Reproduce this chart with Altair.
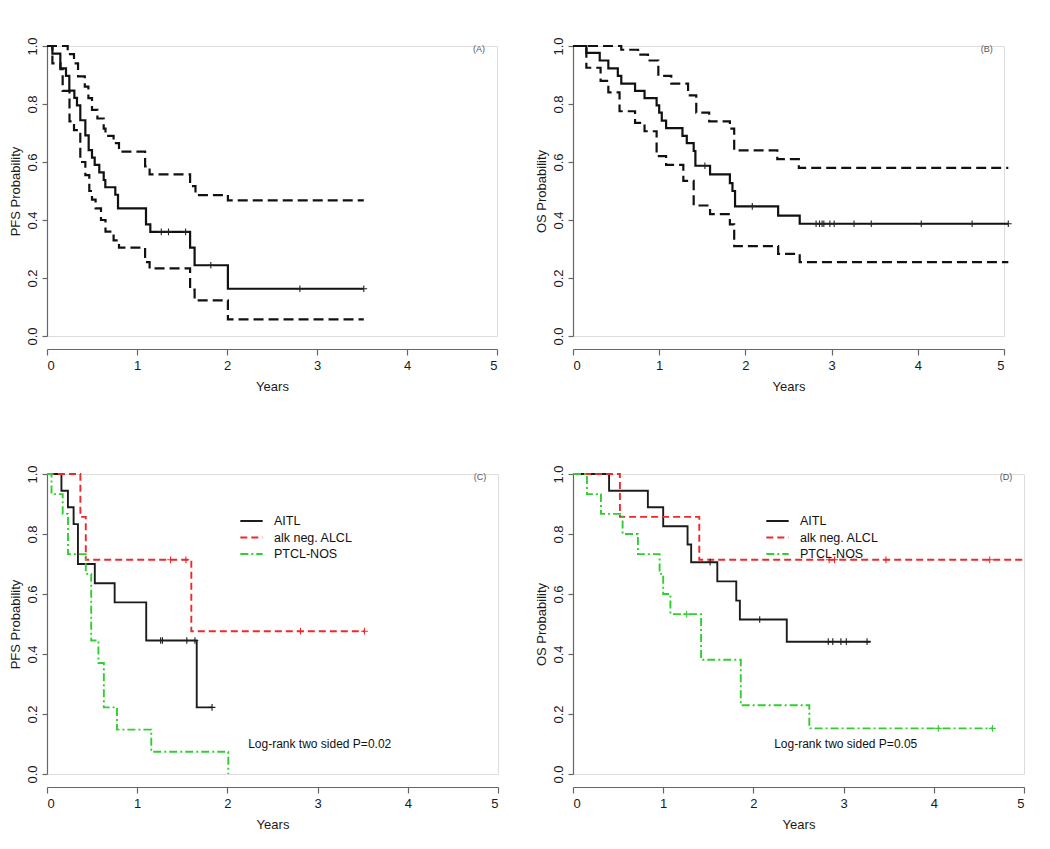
import altair as alt
import pandas as pd

# ---------------- Panel A: PFS, all patients (estimate + 95% CI) ----------------
A_est_t = [0, 0.06, 0.148, 0.211, 0.248, 0.304, 0.333, 0.37, 0.426, 0.463, 0.5, 0.53, 0.581, 0.63, 0.648, 0.759, 0.789, 1.1, 1.148, 1.59, 1.64, 2.01, 3.52]
A_est_s = [1, 0.974, 0.923, 0.897, 0.846, 0.821, 0.795, 0.744, 0.692, 0.641, 0.615, 0.590, 0.564, 0.538, 0.513, 0.487, 0.44, 0.385, 0.359, 0.305, 0.244, 0.163, 0.163]
A_up_t = [0, 0.23, 0.30, 0.345, 0.42, 0.46, 0.5, 0.56, 0.63, 0.65, 0.74, 0.80, 1.09, 1.14, 1.59, 1.65, 2.01, 3.52]
A_up_s = [1, 0.972, 0.94, 0.895, 0.86, 0.82, 0.78, 0.75, 0.715, 0.69, 0.665, 0.636, 0.585, 0.557, 0.517, 0.486, 0.468, 0.468]
A_lo_t = [0, 0.06, 0.15, 0.174, 0.25, 0.30, 0.37, 0.426, 0.47, 0.5, 0.54, 0.6, 0.65, 0.74, 0.80, 1.09, 1.14, 1.59, 1.64, 2.01, 3.52]
A_lo_s = [1, 0.94, 0.92, 0.845, 0.74, 0.71, 0.60, 0.555, 0.50, 0.47, 0.44, 0.40, 0.36, 0.33, 0.305, 0.255, 0.233, 0.16, 0.123, 0.057, 0.057]
A_cen_t = [1.27, 1.35, 1.54, 1.82, 2.81, 3.52]
A_cen_s = [0.359, 0.359, 0.359, 0.244, 0.163, 0.163]

# ---------------- Panel B: OS, all patients (estimate + 95% CI) ----------------
B_est_t = [0, 0.155, 0.31, 0.41, 0.52, 0.56, 0.72, 0.83, 0.97, 1.0, 1.03, 1.08, 1.27, 1.32, 1.40, 1.42, 1.59, 1.82, 1.85, 1.88, 2.38, 2.63, 5.05]
B_est_s = [1, 0.976, 0.95, 0.923, 0.897, 0.87, 0.845, 0.82, 0.795, 0.77, 0.743, 0.717, 0.69, 0.665, 0.638, 0.587, 0.557, 0.527, 0.50, 0.447, 0.415, 0.387, 0.387]
B_up_t = [0, 0.56, 0.755, 0.87, 0.99, 1.14, 1.335, 1.43, 1.58, 1.82, 1.87, 2.37, 2.62, 5.05]
B_up_s = [1, 0.987, 0.97, 0.95, 0.897, 0.87, 0.83, 0.77, 0.74, 0.715, 0.64, 0.61, 0.58, 0.58]
B_lo_t = [0, 0.155, 0.32, 0.41, 0.54, 0.72, 0.83, 0.97, 1.08, 1.28, 1.40, 1.59, 1.82, 1.87, 2.38, 2.63, 5.05]
B_lo_s = [1, 0.925, 0.88, 0.84, 0.775, 0.735, 0.706, 0.62, 0.59, 0.535, 0.45, 0.42, 0.385, 0.31, 0.283, 0.255, 0.255]
B_cen_t = [1.53, 2.08, 2.82, 2.86, 2.89, 2.91, 2.98, 3.03, 3.26, 3.46, 4.04, 4.63, 5.05]
B_cen_s = [0.587, 0.447, 0.387, 0.387, 0.387, 0.387, 0.387, 0.387, 0.387, 0.387, 0.387, 0.387, 0.387]

# ---------------- Panel C: PFS by subtype ----------------
GROUPS = ["AITL", "alk neg. ALCL", "PTCL-NOS"]
C_aitl_t = [0, 0.16, 0.232, 0.295, 0.343, 0.53, 0.75, 1.10, 1.66, 1.83]
C_aitl_s = [1, 0.944, 0.889, 0.833, 0.70, 0.636, 0.572, 0.445, 0.222, 0.222]
C_alcl_t = [0, 0.37, 0.43, 1.60, 3.52]
C_alcl_s = [1, 0.857, 0.714, 0.476, 0.476]
C_ptcl_t = [0, 0.05, 0.174, 0.233, 0.43, 0.49, 0.57, 0.63, 0.776, 1.156, 2.01]
C_ptcl_s = [1, 0.933, 0.867, 0.733, 0.667, 0.445, 0.37, 0.222, 0.148, 0.074, 0.0]
C_aitl_cen_t = [1.26, 1.28, 1.55, 1.64, 1.83]
C_aitl_cen_s = [0.445, 0.445, 0.445, 0.445, 0.222]
C_alcl_cen_t = [1.37, 1.54, 2.81, 3.52]
C_alcl_cen_s = [0.714, 0.714, 0.476, 0.476]

# ---------------- Panel D: OS by subtype ----------------
D_aitl_t = [0, 0.40, 0.83, 1.0, 1.27, 1.31, 1.60, 1.81, 1.85, 2.37, 3.30]
D_aitl_s = [1, 0.944, 0.889, 0.826, 0.765, 0.706, 0.642, 0.578, 0.515, 0.441, 0.441]
D_alcl_t = [0, 0.52, 1.40, 4.99]
D_alcl_s = [1, 0.857, 0.714, 0.714]
D_ptcl_t = [0, 0.155, 0.31, 0.55, 0.72, 0.96, 1.0, 1.08, 1.42, 1.86, 2.62, 4.65]
D_ptcl_s = [1, 0.933, 0.867, 0.8, 0.733, 0.667, 0.6, 0.533, 0.381, 0.229, 0.152, 0.152]
D_aitl_cen_t = [1.52, 2.07, 2.83, 2.88, 2.97, 3.03, 3.26]
D_aitl_cen_s = [0.706, 0.515, 0.441, 0.441, 0.441, 0.441, 0.441]
D_alcl_cen_t = [2.84, 2.90, 3.47, 4.62]
D_alcl_cen_s = [0.714, 0.714, 0.714, 0.714]
D_ptcl_cen_t = [1.26, 4.05, 4.65]
D_ptcl_cen_s = [0.533, 0.152, 0.152]

PANEL_TAGS = ["(A)", "(B)", "(C)", "(D)"]
PVALUES = ["Log-rank two sided P=0.02", "Log-rank two sided P=0.05"]
X_TICKS = [0, 1, 2, 3, 4, 5]
Y_TICKS = [0.0, 0.2, 0.4, 0.6, 0.8, 1.0]

# ---------------- styles ----------------
GROUP_COLORS = {"AITL": "#1c1c1c", "alk neg. ALCL": "#f0282a", "PTCL-NOS": "#2fcf2f"}
GROUP_DASH = {"AITL": [1, 0], "alk neg. ALCL": [7, 4], "PTCL-NOS": [8, 3, 2, 3]}
CROSS = "M-1,0L1,0M0,-1L0,1"


def x_enc():
    return alt.X("t:Q", title="Years",
                 scale=alt.Scale(domain=[0, 5], nice=False, zero=False),
                 axis=alt.Axis(values=X_TICKS, format="d", offset=13, tickSize=6,
                               labelPadding=4, titlePadding=8, grid=False))


def y_enc(title):
    return alt.Y("s:Q", title=title,
                 scale=alt.Scale(domain=[0, 1], nice=False),
                 axis=alt.Axis(values=Y_TICKS, format=".1f", labelAngle=270,
                               labelAlign="center", labelBaseline="bottom",
                               tickSize=5, labelPadding=3, titlePadding=4, grid=False))


def curve(t, s, name):
    return pd.DataFrame({"t": t, "s": s, "curve": name})


def ci_panel(est, up, lo, cen, ytitle, tag, w, h):
    est_df = curve(est[0], est[1], "est")
    ci_df = pd.concat([curve(up[0], up[1], "upper"), curve(lo[0], lo[1], "lower")])
    cen_df = pd.DataFrame({"t": cen[0], "s": cen[1]})
    tag_df = pd.DataFrame({"t": [4.8], "s": [0.99], "label": [tag]})
    l_ci = alt.Chart(ci_df).mark_line(interpolate="step-after", color="#111111",
                                       strokeWidth=2.2, strokeDash=[10, 5]).encode(
        x=x_enc(), y=y_enc(ytitle), detail="curve:N")
    l_est = alt.Chart(est_df).mark_line(interpolate="step-after", color="#111111",
                                         strokeWidth=2.2).encode(x=x_enc(), y=y_enc(ytitle))
    l_cen = alt.Chart(cen_df).mark_point(shape=CROSS, filled=False, size=45, color="#222222",
                                          strokeWidth=1.1, opacity=1).encode(x=x_enc(), y=y_enc(ytitle))
    l_tag = alt.Chart(tag_df).mark_text(fontSize=9, color="#555555", align="center",
                                         baseline="middle").encode(x=x_enc(), y=y_enc(ytitle), text="label:N")
    return alt.layer(l_ci, l_est, l_cen, l_tag).properties(width=w, height=h)


def group_panel(curves, cens, ytitle, tag, ptext, w, h):
    rows = []
    for g, (t, s) in zip(GROUPS, curves):
        rows.append(pd.DataFrame({"t": t, "s": s, "group": g}))
    line_df = pd.concat(rows)
    crows = []
    for g, (t, s) in cens.items():
        crows.append(pd.DataFrame({"t": t, "s": s, "group": g, "col": GROUP_COLORS[g]}))
    cen_df = pd.concat(crows)
    txt_df = pd.DataFrame({"t": [4.8, 2.23], "s": [0.99, 0.1], "label": [tag, ptext],
                           "kind": ["tag", "p"]})
    legend = alt.Legend(orient="none", legendX=192, legendY=39, title=None,
                        symbolType="stroke", symbolSize=500, symbolStrokeWidth=2,
                        labelFontSize=12.5, labelColor="#111111", labelOffset=10,
                        clipHeight=16, rowPadding=0.5, padding=0)
    lines = alt.Chart(line_df).mark_line(interpolate="step-after", strokeWidth=1.9).encode(
        x=x_enc(), y=y_enc(ytitle),
        color=alt.Color("group:N", scale=alt.Scale(domain=GROUPS,
                                                   range=[GROUP_COLORS[g] for g in GROUPS]),
                        legend=legend),
        strokeDash=alt.StrokeDash("group:N", scale=alt.Scale(domain=GROUPS,
                                                            range=[GROUP_DASH[g] for g in GROUPS]),
                                  legend=legend))
    pts = alt.Chart(cen_df).mark_point(shape=CROSS, filled=False, size=45, strokeWidth=1.1,
                                       opacity=1).encode(
        x=x_enc(), y=y_enc(ytitle), color=alt.Color("col:N", scale=None))
    tag_l = alt.Chart(txt_df).transform_filter(alt.datum.kind == "tag").mark_text(
        fontSize=9, color="#555555", align="center", baseline="middle").encode(
        x=x_enc(), y=y_enc(ytitle), text="label:N")
    p_l = alt.Chart(txt_df).transform_filter(alt.datum.kind == "p").mark_text(
        fontSize=12, color="#111111", align="left", baseline="middle").encode(
        x=x_enc(), y=y_enc(ytitle), text="label:N")
    return alt.layer(lines, pts, tag_l, p_l).properties(width=w, height=h)


pA = ci_panel((A_est_t, A_est_s), (A_up_t, A_up_s), (A_lo_t, A_lo_s), (A_cen_t, A_cen_s),
              "PFS Probability", PANEL_TAGS[0], 450, 290)
pB = ci_panel((B_est_t, B_est_s), (B_up_t, B_up_s), (B_lo_t, B_lo_s), (B_cen_t, B_cen_s),
              "OS Probability", PANEL_TAGS[1], 431, 290)
pC = group_panel([(C_aitl_t, C_aitl_s), (C_alcl_t, C_alcl_s), (C_ptcl_t, C_ptcl_s)],
                 {"AITL": (C_aitl_cen_t, C_aitl_cen_s), "alk neg. ALCL": (C_alcl_cen_t, C_alcl_cen_s)},
                 "PFS Probability", PANEL_TAGS[2], PVALUES[0], 451, 300)
pD = group_panel([(D_aitl_t, D_aitl_s), (D_alcl_t, D_alcl_s), (D_ptcl_t, D_ptcl_s)],
                 {"AITL": (D_aitl_cen_t, D_aitl_cen_s), "alk neg. ALCL": (D_alcl_cen_t, D_alcl_cen_s),
                  "PTCL-NOS": (D_ptcl_cen_t, D_ptcl_cen_s)},
                 "OS Probability", PANEL_TAGS[3], PVALUES[1], 451, 300)

chart = alt.concat(pA, pB, pC, pD, columns=2, spacing={"row": 70, "column": 34}).resolve_scale(
    color="independent", strokeDash="independent"
).properties(
    padding={"left": 0, "top": 28, "right": 5, "bottom": 5}
).configure_view(stroke=None).configure(
    font="Liberation Sans", background="white"
).configure_axis(
    domainColor="#666666", tickColor="#666666", labelColor="#1a1a1a", titleColor="#1a1a1a",
    labelFontSize=13, titleFontSize=13, titleFontWeight="normal", domainWidth=1.2, tickWidth=1.2,
    labelFont="Liberation Sans", titleFont="Liberation Sans"
).configure_text(font="Liberation Sans").configure_legend(labelFont="Liberation Sans")

chart.save("out.html", embed_options={"renderer": "svg", "actions": False})
